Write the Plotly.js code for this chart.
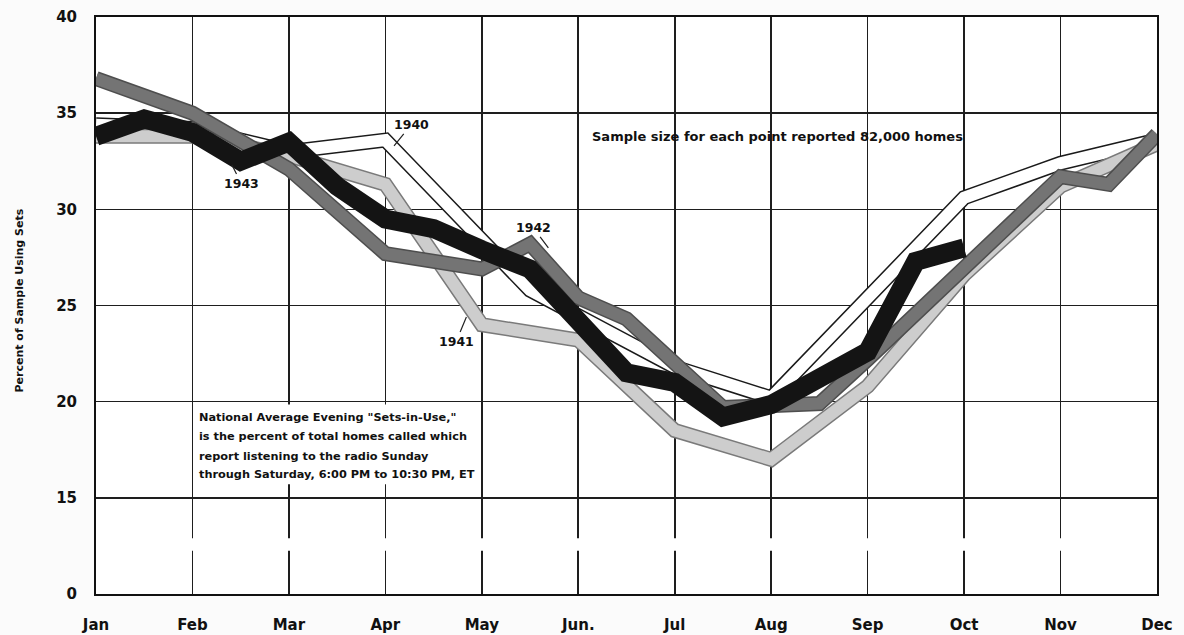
<!DOCTYPE html>
<html>
<head>
<meta charset="utf-8">
<script src="https://cdn.plot.ly/plotly-3.0.1.min.js"></script>
<style>
  html, body { margin: 0; padding: 0; background: #fbfbfb; }
  #chart { width: 1184px; height: 635px; }
</style>
</head>
<body>
<div id="chart"></div>
<script>
// Month tick labels (x positions 0..11 = Jan..Dec)
const months = ['Jan', 'Feb', 'Mar', 'Apr', 'May', 'Jun.', 'Jul', 'Aug', 'Sep', 'Oct', 'Nov', 'Dec'];
const monthPos = [0, 1, 2, 3, 4, 5, 6, 7, 8, 9, 10, 11];

// Y axis: broken axis, bottom gridline labelled "0"
const yTickVals = [10, 15, 20, 25, 30, 35, 40];
const yTickText = ['0', '15', '20', '25', '30', '35', '40'];

// Series (month position, percent of sample using sets)
const x1940 = [0, 1, 2, 3, 4.5, 6, 7, 8, 9, 10, 11];
const y1940 = [34.4, 34.2, 33.0, 33.6, 25.8, 21.8, 20.2, 25.4, 30.6, 32.4, 33.6];

const x1941 = [0, 1, 2, 3, 4, 5, 6, 7, 8, 9, 10, 11];
const y1941 = [33.8, 33.8, 32.8, 31.3, 24.0, 23.2, 18.5, 17.0, 20.8, 26.6, 31.2, 33.4];

const x1942 = [0, 1, 2, 3, 4, 4.5, 5, 5.5, 6.5, 7, 7.5, 8, 9, 10, 10.5, 11];
const y1942 = [36.8, 35.0, 32.1, 27.7, 26.9, 28.2, 25.4, 24.3, 19.7, 19.8, 19.9, 22.2, 27.0, 31.7, 31.3, 33.9];

const x1943 = [0, 0.5, 1, 1.5, 2, 2.5, 3, 3.5, 4, 4.5, 5, 5.5, 6, 6.5, 7, 7.5, 8, 8.5, 9];
const y1943 = [33.8, 34.7, 34.0, 32.5, 33.5, 31.2, 29.5, 29.0, 27.9, 26.9, 24.2, 21.5, 21.0, 19.2, 19.85, 21.2, 22.6, 27.3, 28.0];

// Explanatory note lines
const noteLines = [
  'National Average Evening "Sets-in-Use,"',
  'is the percent of total homes called which',
  'report listening to the radio Sunday',
  'through Saturday, 6:00 PM to 10:30 PM, ET'
];

const FONT = '"DejaVu Sans", "Open Sans", sans-serif';

function band(x, y, outerColor, outerW, innerColor, innerW) {
  const out = [{
    x: x, y: y, type: 'scatter', mode: 'lines', hoverinfo: 'skip',
    line: { color: outerColor, width: outerW, shape: 'linear' }
  }];
  if (innerColor) {
    out.push({
      x: x, y: y, type: 'scatter', mode: 'lines', hoverinfo: 'skip',
      line: { color: innerColor, width: innerW, shape: 'linear' }
    });
  }
  return out;
}

const traces = [].concat(
  band(x1940, y1940, '#1a1a1a', 15, '#ffffff', 12),
  band(x1941, y1941, '#7a7a7a', 15, '#cdcdcd', 12),
  band(x1942, y1942, '#4e4e4e', 15, '#747474', 12),
  band(x1943, y1943, '#141414', 19, null, 0)
);

const bold = (size) => ({ family: FONT, size: size, color: '#111', weight: 'bold' });

const annotations = [
  { xref: 'paper', yref: 'paper', x: -0.08, y: 0.508, text: 'Percent of Sample Using Sets',
    textangle: -90, showarrow: false, font: bold(11) },
  { x: 3.09, y: 33.3, ax: 17, ay: -21, text: '1940', showarrow: true, arrowhead: 0,
    arrowwidth: 1.2, arrowcolor: '#222', font: bold(12.5) },
  { x: 3.84, y: 24.4, ax: -10, ay: 24, text: '1941', showarrow: true, arrowhead: 0,
    arrowwidth: 1.2, arrowcolor: '#222', font: bold(12.5) },
  { x: 4.69, y: 28.0, ax: -15, ay: -20, text: '1942', showarrow: true, arrowhead: 0,
    arrowwidth: 1.2, arrowcolor: '#222', font: bold(12.5) },
  { x: 1.41, y: 32.3, ax: 9, ay: 18, text: '1943', showarrow: true, arrowhead: 0,
    arrowwidth: 1.2, arrowcolor: '#222', font: bold(12.5) },
  { x: 7.07, y: 33.8, text: 'Sample size for each point reported 82,000 homes', showarrow: false,
    font: bold(13) }
];
const noteY = [19.17, 18.18, 17.14, 16.21];
noteLines.forEach((t, i) => {
  annotations.push({ x: 1.05, y: noteY[i], xanchor: 'left', yanchor: 'middle', text: t,
    showarrow: false, font: bold(11.3) });
});

const layout = {
  width: 1184, height: 635,
  margin: { l: 96, r: 27, t: 17, b: 41 },
  paper_bgcolor: '#fbfbfb',
  plot_bgcolor: '#ffffff',
  showlegend: false,
  xaxis: {
    range: [0, 11],
    tickvals: monthPos, ticktext: months,
    showgrid: true, gridcolor: '#1e1e1e', gridwidth: 1.6,
    zeroline: false,
    showline: true, mirror: true, linecolor: '#111', linewidth: 2,
    ticks: '',
    ticklabelstandoff: 16,
    tickfont: bold(15),
    fixedrange: true
  },
  yaxis: {
    range: [10, 40],
    tickvals: yTickVals, ticktext: yTickText,
    showgrid: true, gridcolor: '#1e1e1e', gridwidth: 1.6,
    zeroline: false,
    showline: true, mirror: true, linecolor: '#111', linewidth: 2,
    ticks: '',
    ticklabelstandoff: 14,
    tickfont: bold(15),
    fixedrange: true
  },
  shapes: [
    { type: 'rect', xref: 'x', yref: 'y', x0: -0.05, x1: 11.05, y0: 12.25, y1: 12.9,
      fillcolor: '#ffffff', line: { width: 0 }, layer: 'above' },
    { type: 'rect', xref: 'x', yref: 'y', x0: 1.03, x1: 3.98, y0: 15.7, y1: 19.85,
      fillcolor: '#ffffff', line: { width: 0 }, layer: 'above' }
  ],
  annotations: annotations
};

Plotly.newPlot('chart', traces, layout, { staticPlot: true, displayModeBar: false });
</script>
</body>
</html>
